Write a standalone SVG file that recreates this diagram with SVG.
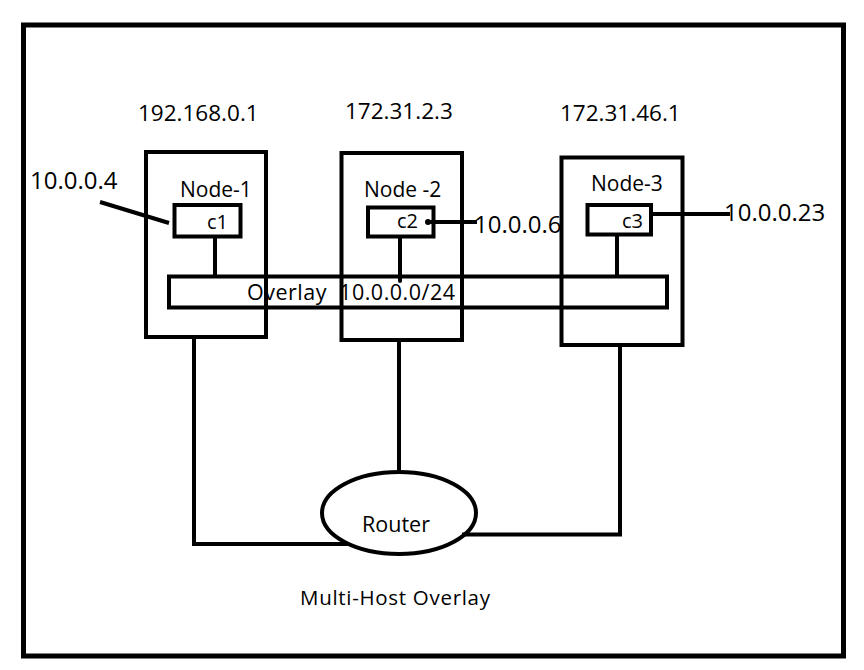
<svg xmlns="http://www.w3.org/2000/svg" width="864" height="670" viewBox="0 0 864 670">
<style>
.s{fill:none;stroke:#000;stroke-width:4}
.l{fill:none;stroke:#000;stroke-width:4;stroke-linecap:butt}
text{font-family:"Open Sans","Liberation Sans",Arial,sans-serif;fill:#000}
.ip{font-size:22.5px}
.lab{font-size:24px}
.nd{font-size:21px}
.c{font-size:20px}
</style>
<rect width="864" height="670" fill="#fff"/>
<rect id="frame" x="23.5" y="25" width="820" height="631" fill="none" stroke="#000" stroke-width="5"/>
<g id="labels">
<text class="ip" x="138" y="121">192.168.0.1</text>
<text class="ip" x="345" y="119">172.31.2.3</text>
<text class="ip" x="560" y="121">172.31.46.1</text>
<text class="lab" x="30" y="189">10.0.0.4</text>
<text class="lab" x="474" y="233">10.0.0.6</text>
<text class="lab" x="724" y="221">10.0.0.23</text>
<text x="300" y="605" font-size="20.5" textLength="190">Multi-Host Overlay</text>
</g>
<g id="overlay">
<rect class="s" x="169" y="276.5" width="498" height="31"/>
<text x="247" y="300" font-size="21.5" textLength="208" xml:space="preserve">Overlay  10.0.0.0/24</text>
</g>
<g id="node1">
<rect class="s" x="146" y="152" width="120" height="185"/>
<text class="nd" x="180" y="197">Node-1</text>
</g>
<g id="c1">
<rect class="s" x="174.5" y="205" width="66" height="31.5"/>
<text class="c" x="207" y="229">c1</text>
</g>
<g id="node2">
<rect class="s" x="341.5" y="153" width="120.5" height="187"/>
<text class="nd" x="364" y="197">Node -2</text>
</g>
<g id="c2">
<rect class="s" x="368" y="207.5" width="65.5" height="29"/>
<text class="c" x="397" y="228">c2</text>
</g>
<g id="node3">
<rect class="s" x="561.5" y="157.5" width="121" height="187.5"/>
<text class="nd" x="591" y="191">Node-3</text>
</g>
<g id="c3">
<rect class="s" x="587.5" y="205" width="63.5" height="29.5"/>
<text class="c" x="622" y="228">c3</text>
</g>
<g id="router">
<ellipse cx="399" cy="513" rx="77" ry="41" fill="#fff" stroke="#000" stroke-width="4"/>
<text x="362" y="532" font-size="21.5">Router</text>
</g>
<g id="connectors">
<line class="l" x1="100" y1="202" x2="169" y2="223"/>
<line class="l" x1="215" y1="238" x2="215" y2="275"/>
<line class="l" x1="430" y1="222" x2="477" y2="222"/>
<circle cx="428" cy="222" r="3" fill="#000"/>
<line x1="400" y1="238" x2="400" y2="281" stroke="#000" stroke-width="4" stroke-linecap="round"/>
<line class="l" x1="652" y1="214" x2="730" y2="214"/>
<line class="l" x1="617" y1="236" x2="617" y2="275"/>
<polyline class="l" points="194,339 194,544 349,544"/>
<line class="l" x1="399" y1="342" x2="399" y2="472"/>
<polyline class="l" points="620,347 620,534.5 462,534.5"/>
</g>
</svg>
